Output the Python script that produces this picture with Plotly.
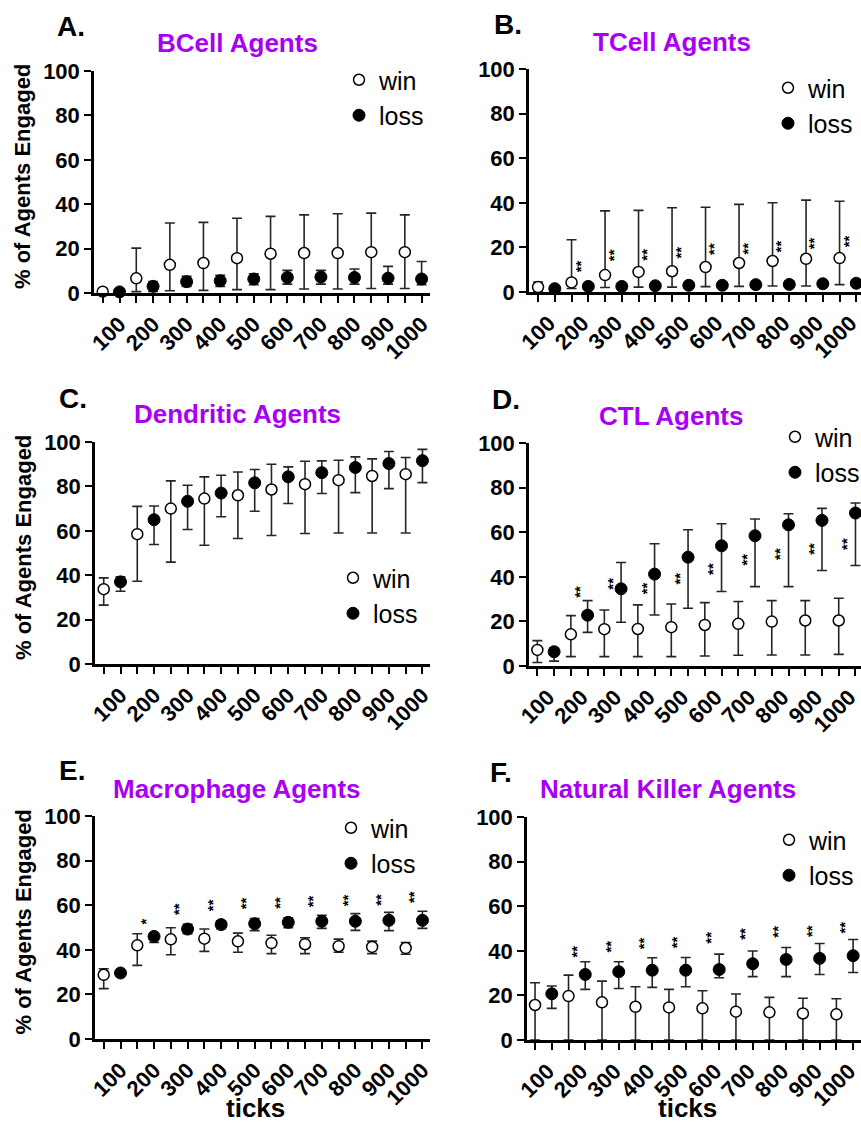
import plotly.graph_objects as go

W, H = 861, 1126
FONT = "Liberation Sans, Arial, sans-serif"
PURPLE = "#A900F5"

tick_labels = ["100", "200", "300", "400", "500", "600", "700", "800", "900", "1000"]

# ---- A. BCell ----
bcell_win = [0.6, 6.6, 12.7, 13.5, 15.7, 17.7, 18.0, 18.0, 18.4, 18.4]
bcell_win_hi = [1.5, 20.2, 31.5, 31.8, 33.7, 34.5, 35.2, 35.7, 36.0, 35.2]
bcell_win_lo = [0.0, 0.6, 1.0, 1.2, 1.5, 1.5, 1.8, 1.8, 2.0, 2.0]
bcell_loss = [0.5, 3.0, 5.1, 5.5, 6.3, 7.0, 7.2, 7.0, 6.7, 6.3]
bcell_loss_hi = [1.0, 5.2, 7.5, 8.0, 8.7, 10.2, 10.2, 10.8, 12.0, 14.2]
bcell_loss_lo = [0.0, 0.7, 3.0, 3.0, 3.7, 4.0, 4.0, 4.0, 4.0, 3.7]
bcell_sig = ["", "", "", "", "", "", "", "", "", ""]
bcell_sig_y = [None] * 10

# ---- B. TCell ----
tcell_win = [2.2, 4.3, 7.6, 9.0, 9.3, 11.2, 13.0, 13.9, 14.9, 15.2]
tcell_win_hi = [4.5, 23.4, 36.4, 36.6, 37.8, 38.0, 39.3, 40.0, 41.2, 40.7]
tcell_win_lo = [0.0, 1.6, 2.0, 2.2, 2.2, 2.4, 2.5, 2.7, 2.7, 3.3]
tcell_loss = [1.5, 2.5, 2.5, 2.8, 3.0, 3.0, 3.3, 3.4, 3.7, 3.9]
tcell_loss_hi = [2.5, 3.5, 3.5, 3.8, 4.0, 4.2, 4.5, 4.8, 5.0, 5.5]
tcell_loss_lo = [0.5, 1.5, 1.5, 1.8, 2.0, 2.0, 2.2, 2.3, 2.5, 2.6]
tcell_sig = ["", "**", "**", "**", "**", "**", "**", "**", "**", "**"]
tcell_sig_y = [None, 11.5, 16.7, 16.7, 17.9, 19.3, 19.7, 20.4, 22.0, 22.7]

# ---- C. Dendritic ----
dend_win = [33.7, 58.5, 70.0, 74.5, 76.0, 78.6, 81.0, 82.8, 84.7, 85.5]
dend_win_hi = [38.8, 71.0, 82.5, 84.3, 86.5, 90.0, 91.3, 91.8, 92.4, 93.0]
dend_win_lo = [26.5, 37.3, 45.9, 53.5, 56.5, 57.9, 58.8, 59.0, 59.0, 59.0]
dend_loss = [37.0, 65.0, 73.3, 77.0, 81.6, 84.3, 86.2, 88.5, 90.3, 91.6]
dend_loss_hi = [39.3, 71.2, 80.5, 85.0, 87.6, 88.8, 91.5, 93.3, 95.7, 96.7]
dend_loss_lo = [32.8, 53.8, 60.6, 66.3, 68.8, 72.3, 76.8, 77.2, 79.0, 81.7]
dend_sig = ["", "", "", "", "", "", "", "", "", ""]
dend_sig_y = [None] * 10

# ---- D. CTL ----
ctl_win = [7.2, 14.2, 16.5, 16.6, 17.4, 18.4, 18.9, 19.9, 20.4, 20.4]
ctl_win_hi = [11.4, 22.6, 25.1, 27.4, 27.8, 28.4, 28.9, 29.3, 29.3, 30.4]
ctl_win_lo = [1.6, 4.2, 4.2, 4.2, 4.2, 4.5, 4.8, 4.9, 4.9, 5.2]
ctl_loss = [6.4, 22.8, 34.6, 41.2, 48.8, 53.9, 58.4, 63.3, 65.3, 68.6]
ctl_loss_hi = [8.0, 29.3, 46.4, 54.8, 61.1, 63.8, 65.9, 68.3, 70.7, 73.1]
ctl_loss_lo = [2.2, 15.1, 19.6, 22.9, 25.9, 33.4, 35.6, 35.6, 42.8, 45.1]
ctl_sig = ["", "**", "**", "**", "**", "**", "**", "**", "**", "**"]
ctl_sig_y = [None, 33.4, 36.8, 34.9, 39.1, 43.6, 47.6, 50.3, 52.4, 54.8]

# ---- E. Macrophage ----
mac_win = [28.8, 42.0, 44.7, 45.0, 43.8, 43.0, 42.5, 41.6, 41.3, 40.8]
mac_win_hi = [31.5, 47.2, 49.9, 49.3, 47.5, 46.5, 45.4, 44.8, 43.9, 43.3]
mac_win_lo = [22.6, 33.0, 37.8, 39.3, 38.9, 38.3, 38.3, 38.9, 38.3, 38.0]
mac_loss = [29.6, 46.0, 49.3, 51.3, 51.7, 52.3, 52.8, 52.8, 53.2, 53.2]
mac_loss_hi = [30.5, 47.5, 51.4, 52.9, 54.0, 54.4, 55.5, 56.2, 56.8, 57.3]
mac_loss_lo = [28.7, 43.3, 47.2, 49.5, 48.6, 49.9, 49.6, 48.7, 48.6, 49.6]
mac_sig = ["", "*", "**", "**", "**", "**", "**", "**", "**", "**"]
mac_sig_y = [None, 52.5, 58.4, 59.9, 61.0, 61.0, 61.9, 62.2, 62.2, 63.7]

# ---- F. Natural Killer ----
nk_win = [15.7, 19.7, 16.9, 14.9, 14.6, 14.2, 12.7, 12.4, 11.9, 11.5]
nk_win_hi = [25.7, 29.1, 26.4, 23.9, 22.7, 22.1, 20.6, 19.1, 18.7, 18.5]
nk_win_lo = [0.0, 0.0, 0.0, 0.0, 0.0, 0.0, 0.0, 0.0, 0.0, 0.0]
nk_loss = [20.7, 29.4, 30.6, 31.3, 31.3, 31.6, 34.2, 36.1, 36.6, 37.8]
nk_loss_hi = [24.2, 35.1, 35.1, 36.9, 37.0, 38.5, 39.9, 41.5, 43.3, 45.1]
nk_loss_lo = [14.2, 22.7, 23.1, 23.6, 23.9, 27.9, 28.4, 28.4, 29.4, 30.3]
nk_sig = ["", "**", "**", "**", "**", "**", "**", "**", "**", "**"]
nk_sig_y = [None, 39.6, 42.1, 43.3, 44.0, 45.8, 47.8, 48.5, 49.0, 50.3]

panels = [
    dict(letter="A.", title="BCell Agents", win=bcell_win, win_hi=bcell_win_hi, win_lo=bcell_win_lo,
         loss=bcell_loss, loss_hi=bcell_loss_hi, loss_lo=bcell_loss_lo, sig=bcell_sig, sig_y=bcell_sig_y,
         box=(94, 430, 71, 293), xr=(-0.52, 19.5), letter_xy=(55, 27), title_xy=(237, 43),
         leg=(339, 57), ytitle=True, xtitle=False, lshift=0),
    dict(letter="B.", title="TCell Agents", win=tcell_win, win_hi=tcell_win_hi, win_lo=tcell_win_lo,
         loss=tcell_loss, loss_hi=tcell_loss_hi, loss_lo=tcell_loss_lo, sig=tcell_sig, sig_y=tcell_sig_y,
         box=(529, 861, 69, 292), xr=(-0.54, 19.28), letter_xy=(492, 24), title_xy=(672, 42),
         leg=(768, 65), ytitle=False, xtitle=False, lshift=-6),
    dict(letter="C.", title="Dendritic Agents", win=dend_win, win_hi=dend_win_hi, win_lo=dend_win_lo,
         loss=dend_loss, loss_hi=dend_loss_hi, loss_lo=dend_loss_lo, sig=dend_sig, sig_y=dend_sig_y,
         box=(95, 430, 442, 664), xr=(-0.52, 19.45), letter_xy=(57, 398), title_xy=(237, 414),
         leg=(333, 555), ytitle=True, xtitle=False, lshift=0),
    dict(letter="D.", title="CTL Agents", win=ctl_win, win_hi=ctl_win_hi, win_lo=ctl_win_lo,
         loss=ctl_loss, loss_hi=ctl_loss_hi, loss_lo=ctl_loss_lo, sig=ctl_sig, sig_y=ctl_sig_y,
         box=(529, 861, 443, 666), xr=(-0.5, 19.33), letter_xy=(490, 399), title_xy=(671, 416),
         leg=(775, 414), ytitle=False, xtitle=False, lshift=-6),
    dict(letter="E.", title="Macrophage Agents", win=mac_win, win_hi=mac_win_hi, win_lo=mac_win_lo,
         loss=mac_loss, loss_hi=mac_loss_hi, loss_lo=mac_loss_lo, sig=mac_sig, sig_y=mac_sig_y,
         box=(95, 430, 816, 1039), xr=(-0.52, 19.45), letter_xy=(57, 770), title_xy=(237, 789),
         leg=(331, 805), ytitle=True, xtitle=True, lshift=0),
    dict(letter="F.", title="Natural Killer Agents", win=nk_win, win_hi=nk_win_hi, win_lo=nk_win_lo,
         loss=nk_loss, loss_hi=nk_loss_hi, loss_lo=nk_loss_lo, sig=nk_sig, sig_y=nk_sig_y,
         box=(527, 861, 817, 1040), xr=(-0.48, 19.47), letter_xy=(488, 772), title_xy=(668, 789),
         leg=(769, 817), ytitle=False, xtitle=True, lshift=-4),
]


def px(x):
    return x / W


def py(y):
    return 1 - y / H


n = len(tick_labels)
x_win = [2 * i for i in range(n)]
x_loss = [2 * i + 1 for i in range(n)]
x_sig = [2 * i + 0.5 for i in range(n)]
all_ticks = sorted(x_win + x_loss)
all_text = []
for v in all_ticks:
    all_text.append(tick_labels[v // 2] if v % 2 == 1 else "")

fig = go.Figure()
annotations = []
layout = dict(
    width=W, height=H, margin=dict(l=0, r=0, t=0, b=0, pad=0, autoexpand=False),
    paper_bgcolor="white", plot_bgcolor="white",
    font=dict(family=FONT, color="black"),
    showlegend=True,
)

for k, p in enumerate(panels, start=1):
    sfx = "" if k == 1 else str(k)
    xa, ya = "x" + sfx, "y" + sfx
    legname = "legend" + sfx
    x0, x1, ytop, ybot = p["box"]
    err_style = dict(type="data", symmetric=False, color="#262626", thickness=1.6, width=5)
    fig.add_trace(go.Scatter(
        x=x_win, y=p["win"], mode="markers", name="win", xaxis=xa, yaxis=ya, legend=legname,
        marker=dict(symbol="circle", size=11, color="white", line=dict(color="black", width=1.5)),
        error_y=dict(array=[h - m for h, m in zip(p["win_hi"], p["win"])],
                     arrayminus=[m - l for m, l in zip(p["win"], p["win_lo"])], **err_style),
        cliponaxis=False,
    ))
    fig.add_trace(go.Scatter(
        x=x_loss, y=p["loss"], mode="markers", name="loss", xaxis=xa, yaxis=ya, legend=legname,
        marker=dict(symbol="circle", size=12, color="black", line=dict(color="black", width=1)),
        error_y=dict(array=[h - m for h, m in zip(p["loss_hi"], p["loss"])],
                     arrayminus=[m - l for m, l in zip(p["loss"], p["loss_lo"])], **err_style),
        cliponaxis=False,
    ))
    layout["xaxis" + sfx] = dict(
        domain=[px(x0), min(1.0, px(x1))], range=list(p["xr"]), anchor=ya,
        tickmode="array", tickvals=all_ticks, ticktext=all_text, tickangle=-45,
        ticks="outside", ticklen=7, tickwidth=2, tickcolor="black",
        showline=True, linewidth=2.5, linecolor="black", showgrid=False, zeroline=False,
        tickfont=dict(family=FONT, size=22, weight="bold", color="black"), fixedrange=True,
        ticklabeloverflow="allow", automargin=False, ticklabelshift=p["lshift"],
    )
    layout["yaxis" + sfx] = dict(
        domain=[py(ybot), py(ytop)], range=[0, 100], anchor=xa,
        tickmode="array", tickvals=[0, 20, 40, 60, 80, 100],
        ticks="outside", ticklen=7, tickwidth=2, tickcolor="black",
        showline=True, linewidth=2.5, linecolor="black", showgrid=False, zeroline=False,
        tickfont=dict(family=FONT, size=22, weight="bold", color="black"), fixedrange=True,
        automargin=False,
    )
    lx, ly = p["leg"]
    layout[legname] = dict(
        x=px(lx), y=py(ly), xanchor="left", yanchor="top", bgcolor="rgba(0,0,0,0)",
        font=dict(family=FONT, size=25, color="black"), itemsizing="trace",
        tracegroupgap=0,
    )
    # significance markers
    for xs, s, sy in zip(x_sig, p["sig"], p["sig_y"]):
        if s and sy is not None:
            annotations.append(dict(
                x=xs, y=sy, xref=xa, yref=ya, text=s, showarrow=False, textangle=-90,
                font=dict(family=FONT, size=15, weight="bold", color="black"),
            ))
    # panel letter and title
    lxp, lyp = p["letter_xy"]
    annotations.append(dict(x=px(lxp), y=py(lyp), xref="paper", yref="paper", xanchor="left",
                            yanchor="middle", text=p["letter"], showarrow=False,
                            font=dict(family=FONT, size=28, weight="bold", color="black")))
    txp, typ = p["title_xy"]
    annotations.append(dict(x=px(txp), y=py(typ), xref="paper", yref="paper", xanchor="center",
                            yanchor="middle", text=p["title"], showarrow=False,
                            font=dict(family=FONT, size=26, weight="bold", color=PURPLE)))
    if p["ytitle"]:
        annotations.append(dict(x=px(23), y=py((ytop + ybot) / 2 - 5), xref="paper", yref="paper",
                                xanchor="center", yanchor="middle", textangle=-90,
                                text="% of Agents Engaged", showarrow=False,
                                font=dict(family=FONT, size=22, weight="bold", color="black")))
    if p["xtitle"]:
        annotations.append(dict(x=px((x0 + x1) / 2 - 7), y=py(1108), xref="paper", yref="paper",
                                xanchor="center", yanchor="middle", text="ticks", showarrow=False,
                                font=dict(family=FONT, size=26, weight="bold", color="black")))

layout["annotations"] = annotations
fig.update_layout(**layout)
fig.write_html("out.html")
